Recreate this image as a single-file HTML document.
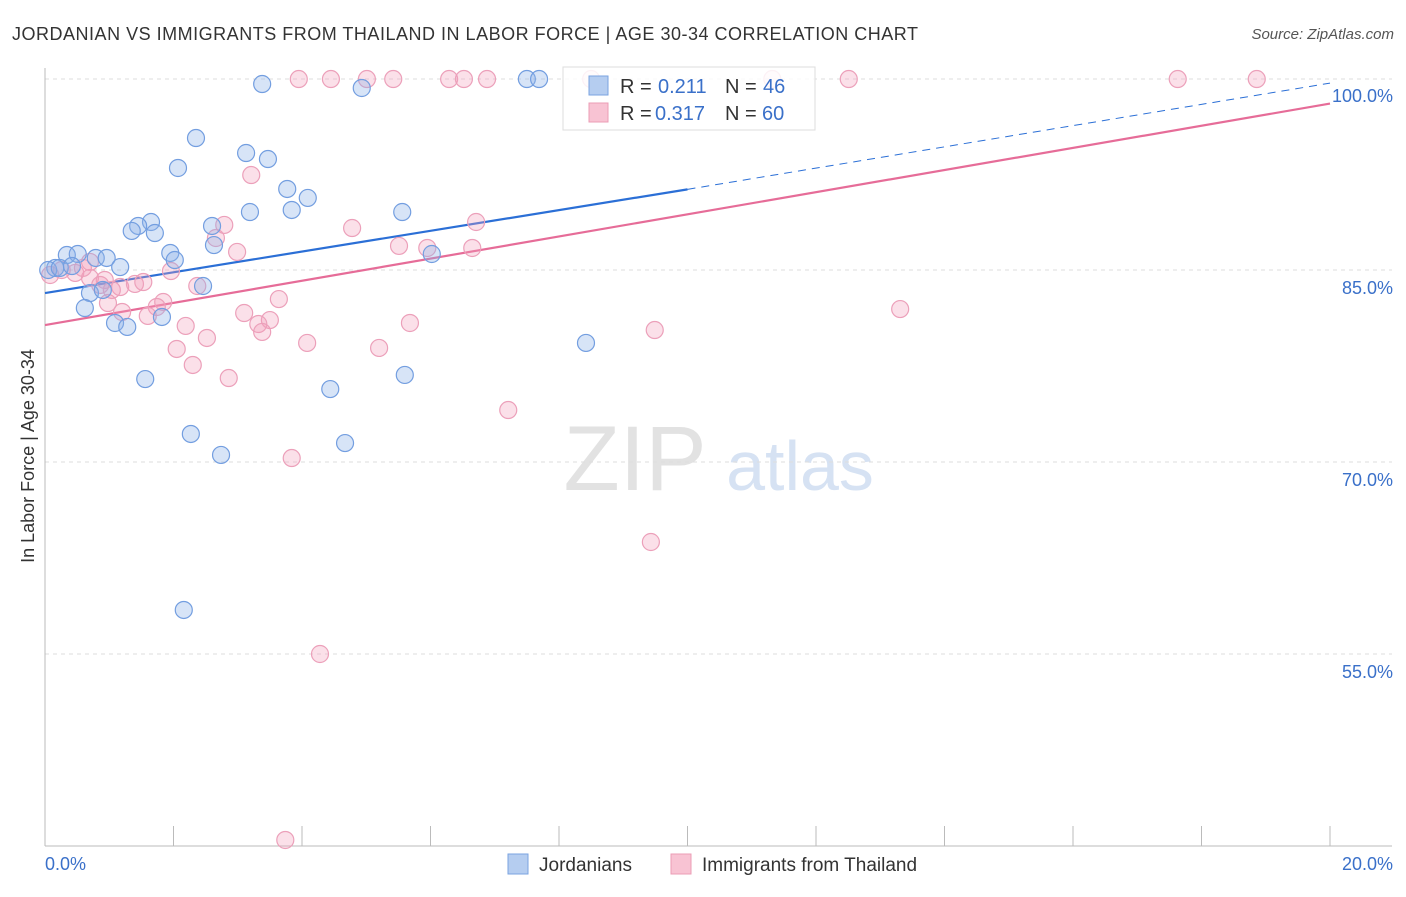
<!DOCTYPE html>
<html><head><meta charset="utf-8"><style>
body{margin:0;background:#fff;font-family:"Liberation Sans",sans-serif;}
svg text{font-family:"Liberation Sans",sans-serif;}
</style></head><body>
<svg id="chart" width="1406" height="892" viewBox="0 0 1406 892">
<text x="12" y="40" font-size="18" fill="#333" textLength="906" lengthAdjust="spacing">JORDANIAN VS IMMIGRANTS FROM THAILAND IN LABOR FORCE | AGE 30-34 CORRELATION CHART</text>
<text x="1394" y="39" font-size="15" fill="#555" text-anchor="end" font-style="italic">Source: ZipAtlas.com</text>
<g>
<text x="635" y="490" font-size="92" fill="#e2e2e2" text-anchor="middle" font-family="Liberation Serif">ZIP</text>
<text x="800" y="490" font-size="70" fill="#d6e2f3" text-anchor="middle">atlas</text>
</g>
<g id="grid"></g><g id="axes"></g><g id="trends"></g><g id="pts"></g>
<text transform="translate(34,456) rotate(-90)" font-size="18" fill="#333" text-anchor="middle">In Labor Force | Age 30-34</text>
<g>
<rect x="563" y="67" width="252" height="63" fill="rgba(255,255,255,0.85)" stroke="#ddd"/>
<rect x="589" y="76" width="19" height="19" fill="#b5cdf0" stroke="#7aa3e0"/>
<rect x="589" y="103" width="19" height="19" fill="#f8c3d3" stroke="#eb9cb6"/>
<text x="620" y="93" font-size="20" fill="#333">R =</text>
<text x="658" y="93" font-size="20" fill="#3a70c9">0.211</text>
<text x="725" y="93" font-size="20" fill="#333">N =</text>
<text x="763" y="93" font-size="20" fill="#3a70c9">46</text>
<text x="620" y="120" font-size="20" fill="#333">R =</text>
<text x="655" y="120" font-size="20" fill="#3a70c9">0.317</text>
<text x="725" y="120" font-size="20" fill="#333">N =</text>
<text x="762" y="120" font-size="20" fill="#3a70c9">60</text>
</g>
<g>
<rect x="508" y="854" width="20" height="20" fill="#b5cdf0" stroke="#7aa3e0"/>
<text x="539" y="871" font-size="19" fill="#333">Jordanians</text>
<rect x="671" y="854" width="20" height="20" fill="#f8c3d3" stroke="#eb9cb6"/>
<text x="702" y="871" font-size="19" fill="#333">Immigrants from Thailand</text>
</g>
</svg>
<script>
const yTicks=[100,85,70,55];
const yTickLabels=["100.0%","85.0%","70.0%","55.0%"];
const xTickLabels=["0.0%","20.0%"];
const blueX=[3.38,4.93,7.50,7.69,2.35,2.07,3.13,3.47,3.77,4.09,3.84,3.19,5.56,2.60,2.63,1.65,1.45,1.35,1.71,1.95,2.02,2.46,0.34,0.51,0.79,0.96,1.17,0.16,0.05,0.23,0.42,0.70,0.90,0.62,1.09,1.28,1.82,6.02,8.42,1.56,5.60,4.44,2.27,4.67,2.74,2.16];
const blueY=[99.53,99.22,99.92,99.92,95.31,92.97,94.14,93.67,91.33,90.63,89.69,89.53,89.53,88.44,86.95,88.75,88.44,88.05,87.89,86.33,85.78,83.75,86.17,86.25,85.94,85.94,85.23,85.16,85.0,85.16,85.31,83.20,83.44,82.03,80.86,80.55,81.33,86.25,79.30,76.48,76.80,75.70,72.19,71.48,70.55,58.44];
const pinkX=[3.95,4.45,5.01,5.42,6.29,6.52,6.88,8.50,11.32,12.51,17.63,18.86,3.21,2.79,4.78,6.71,2.66,2.99,5.51,5.95,6.65,1.96,0.70,0.26,0.47,0.70,0.93,1.17,1.40,1.53,1.04,2.37,3.64,1.84,1.74,1.60,3.10,3.50,3.32,3.38,5.68,9.49,13.31,2.19,2.52,4.08,5.20,2.05,2.30,2.86,7.21,3.84,9.43,4.28,3.74,0.08,0.98,1.20,0.59,0.86];
const pinkY=[99.92,99.92,99.92,99.92,99.92,99.92,99.92,99.92,99.92,99.92,99.92,99.92,92.42,88.52,88.28,88.75,87.5,86.41,86.88,86.72,86.72,84.92,85.63,85.0,84.77,84.38,84.22,83.67,83.91,84.06,83.44,83.75,82.73,82.5,82.11,81.41,81.64,81.09,80.78,80.16,80.86,80.31,81.95,80.63,79.69,79.30,78.91,78.83,77.58,76.56,74.06,70.31,63.75,55.0,40.47,84.61,82.42,81.72,85.16,83.83];
const blueTrend=[[0,83.2],[10,91.3],[20,99.6]];
const pinkTrend=[[0,80.7],[20,98.0]];
const NS="http://www.w3.org/2000/svg";
const X=v=>45+v*64.25, Y=v=>78+(100-v)*12.8;
function mk(p,t,a){const e=document.createElementNS(NS,t);for(const k in a)e.setAttribute(k,a[k]);p.appendChild(e);return e;}
const grid=document.getElementById('grid'),axes=document.getElementById('axes'),tr=document.getElementById('trends'),pts=document.getElementById('pts');
yTicks.forEach((t,i)=>{
 const l=mk(grid,'line',{x1:45,x2:1392,y1:Y(t)+(t==100?1:0),y2:Y(t)+(t==100?1:0),stroke:'#ddd','stroke-dasharray':'4,4'});
 
 
 const tx=mk(grid,'text',{x:1393,y:Y(t)+24,'font-size':18,fill:'#3a70c9','text-anchor':'end'});tx.textContent=yTickLabels[i];
 
 
});
const ya=mk(axes,'line',{x1:45,x2:45,y1:68,y2:846,stroke:'#bbb'});


const xa=mk(axes,'line',{x1:45,x2:1392,y1:846,y2:846,stroke:'#bbb'});


for(let v=0;v<=20;v+=2){const t=mk(axes,'line',{x1:X(v),x2:X(v),y1:826,y2:846,stroke:'#bbb'});
 
 }
[[0,xTickLabels[0],'start',45],[20,xTickLabels[1],'end',1393]].forEach(a=>{const t=mk(axes,'text',{x:a[3],y:870,'font-size':18,fill:'#3a70c9','text-anchor':a[2]});t.textContent=a[1];
 
 });
function dots(xs,ys,fill,stroke,name){xs.forEach((x,i)=>{const c=mk(pts,'circle',{cx:X(x),cy:Y(ys[i]),r:8.5,fill:fill,stroke:stroke,'stroke-width':1.2});
 
 });}
dots(pinkX,pinkY,'rgba(242,160,188,0.32)','#eca0ba','thailand-point');
dots(blueX,blueY,'rgba(140,178,232,0.35)','#739ee0','jordanian-point');
const bs=mk(tr,'line',{x1:X(blueTrend[0][0]),y1:Y(blueTrend[0][1]),x2:X(blueTrend[1][0]),y2:Y(blueTrend[1][1]),stroke:'#2b6fd6','stroke-width':2.2});


const bd=mk(tr,'line',{x1:X(blueTrend[1][0]),y1:Y(blueTrend[1][1]),x2:X(blueTrend[2][0]),y2:Y(blueTrend[2][1]),stroke:'#2b6fd6','stroke-width':1,'stroke-dasharray':'8,6'});


const ps=mk(tr,'line',{x1:X(pinkTrend[0][0]),y1:Y(pinkTrend[0][1]),x2:X(pinkTrend[1][0]),y2:Y(pinkTrend[1][1]),stroke:'#e66c98','stroke-width':2.2});


</script>
</body></html>
